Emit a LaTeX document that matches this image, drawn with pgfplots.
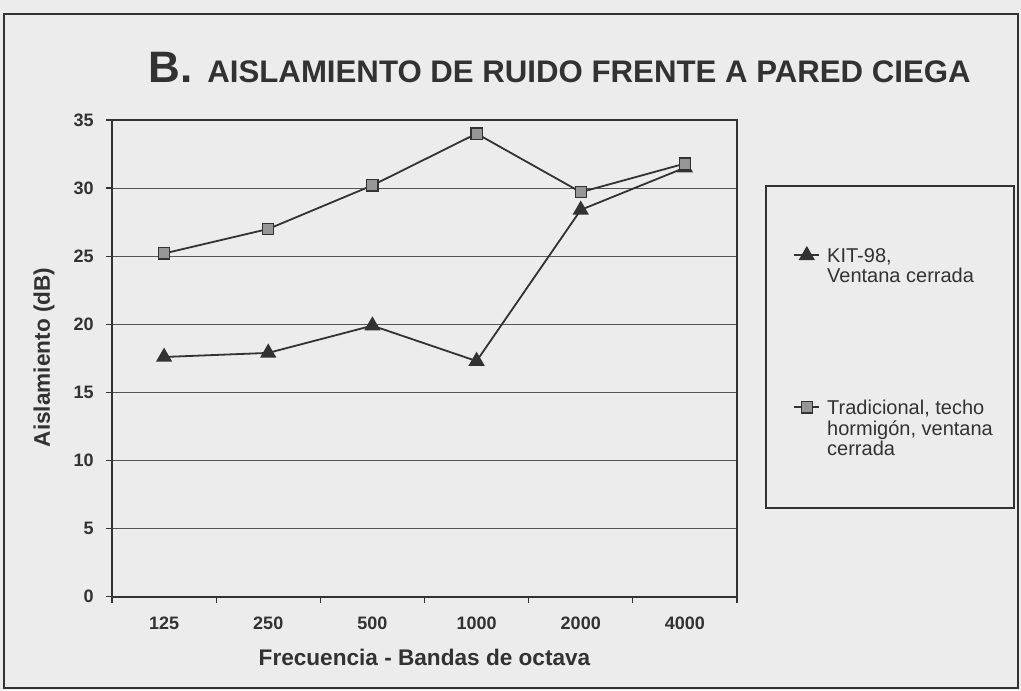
\documentclass[border=0pt]{standalone}
\usepackage{fontspec}
\setmainfont{Liberation Sans}
\usepackage{pgfplots}
\pgfplotsset{compat=1.18}
\definecolor{bg}{RGB}{236,236,236}
\definecolor{ink}{RGB}{50,50,50}
\definecolor{gridc}{RGB}{85,85,85}
\definecolor{sqfill}{RGB}{150,150,150}
\begin{document}
\begin{tikzpicture}
\fill[bg] (0,0) rectangle (510.5pt,345pt);
\useasboundingbox (0,0) rectangle (510.5pt,345pt);
\draw[ink, line width=0.8pt] (2pt,1pt) rectangle (509pt,338pt);
\node[anchor=base west, inner sep=0pt, text=ink] at (74pt,303.5pt) {\fontsize{22}{22}\selectfont\bfseries B.};
\node[anchor=base west, inner sep=0pt, text=ink] at (103.5pt,303.5pt) {\fontsize{15.6}{15.6}\selectfont\bfseries AISLAMIENTO DE RUIDO FRENTE A PARED CIEGA};
\node[rotate=90, inner sep=0pt, text=ink] at (22pt,166.25pt) {\fontsize{11.3}{11.3}\selectfont\bfseries Aislamiento (dB)};
\node[anchor=base, inner sep=0pt, text=ink] at (212.25pt,12.5pt) {\fontsize{11.3}{11.3}\selectfont\bfseries Frecuencia - Bandas de octava};
\draw[ink, line width=0.6pt] (383pt,91pt) rectangle (507pt,252pt);
\begin{axis}[
  at={(56pt,46.65pt)}, anchor=south west,
  scale only axis, width=312.5pt, height=238.35pt,
  xmin=-0.5, xmax=5.5, ymin=0, ymax=35,
  axis line style={ink, line width=0.9pt},
  xtick={-0.5,0.5,...,5.5}, xticklabels={},
  extra x ticks={0,1,2,3,4,5},
  extra x tick labels={125,250,500,1000,2000,4000},
  extra x tick style={major tick length=0pt},
  ytick={0,5,...,35},
  xtick pos=bottom, ytick pos=left,
  tick align=outside, major tick length=3pt,
  tick style={ink, line width=0.6pt},
  ymajorgrids, major grid style={gridc, line width=0.5pt},
  /pgf/number format/assume math mode=true,
  ticklabel style={font=\bfseries\fontsize{9}{9}\selectfont, text=ink, inner sep=0pt},
  xticklabel style={yshift=-9.8pt},
  yticklabel style={xshift=-6pt},
  legend style={at={(1.0464,0.8616)}, anchor=north west, draw=none, fill=none,
    inner xsep=13.5pt, inner ysep=19.5pt, row sep=61.5pt, column sep=3.5pt,
    nodes={inner sep=0pt},
    font=\fontsize{10}{10}\selectfont, text=ink, cells={anchor=base west}},
  legend image code/.code={\draw[mark repeat=2,mark phase=2,#1] plot coordinates {(0pt,3.5pt) (6.25pt,3.5pt) (12.5pt,3.5pt)};},
]
\addplot[color=ink, line width=0.9pt, mark=triangle*, mark size=3.8pt, mark options={fill=ink, draw=ink}]
  coordinates {(0,17.6) (1,17.9) (2,19.9) (3,17.3) (4,28.4) (5,31.5)};
\addlegendentry{\makebox[80.5pt][l]{\begin{tabular}[t]{@{}l@{}}\rule{0pt}{18.5pt}KIT-98,\\Ventana cerrada\end{tabular}}}
\addplot[color=ink, line width=0.9pt, mark=square*, mark size=2.8pt, mark options={fill=sqfill, draw=ink, line width=0.6pt}]
  coordinates {(0,25.2) (1,27.0) (2,30.2) (3,34.0) (4,29.7) (5,31.8)};
\addlegendentry{\makebox[80.5pt][l]{\begin{tabular}[t]{@{}l@{}}\rule{0pt}{13pt}Tradicional, techo\\hormigón, ventana\\cerrada\end{tabular}}}
\end{axis}
\end{tikzpicture}
\end{document}
